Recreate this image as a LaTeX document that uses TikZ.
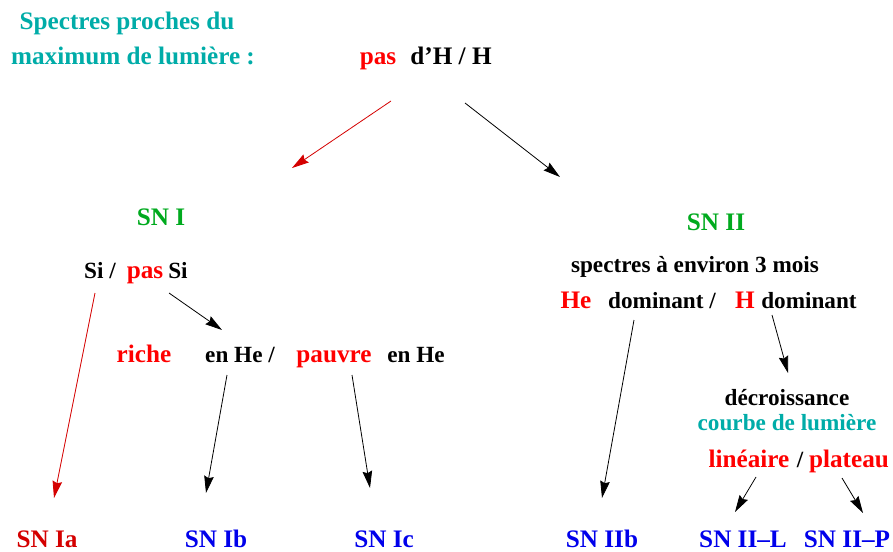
\documentclass[tikz,border=0pt]{standalone}
\usepackage{fontspec}
\setmainfont{Liberation Serif}
\usetikzlibrary{arrows.meta}
\usetikzlibrary{calc}

\definecolor{teal}{RGB}{0,172,168}
\definecolor{snred}{RGB}{212,0,0}
\definecolor{sngreen}{RGB}{0,170,30}
\definecolor{snblue}{RGB}{0,0,235}

\tikzset{
  txt/.style={anchor=base,inner sep=0pt,font=\fontsize{11.6}{13}\selectfont\bfseries},
  big/.style={txt,font=\fontsize{12.6}{14}\selectfont\bfseries},
  hi/.style={big,text=red},
  title/.style={big,text=teal},
  group/.style={big,text=sngreen},
  leaf/.style={big,text=snblue},
}

\begin{document}
\begin{tikzpicture}[x=0.5pt,y=-0.5pt]

  \useasboundingbox (0,0) rectangle (893,551);

  % question at the maximum of light
  \node [title] (q1)  at (127,30) {Spectres proches du};
  \node [title] (q2)  at (133,65) {maximum de lumi\`ere :};
  \node [hi]    (pas) at (378,65) {pas};
  \node [big,text=black] (dH) at (451,65) {d'H / H};

  \coordinate (toSNI)  at (292,168);
  \coordinate (toSNII) at (560,177);

  % SN I branch
  \node [group] (SNI)    at (161,225) {SN I};
  \node [txt]   (SiA)    at (100,278) {Si /};
  \node [hi]    (pasSi)  at (145,278) {pas};
  \node [txt]   (SiB)    at (178,278) {Si};
  \node [hi]    (riche)  at (144,362) {riche};
  \node [txt]   (enHeA)  at (240,362) {en He /};
  \node [hi]    (pauvre) at (334,362) {pauvre};
  \node [txt]   (enHeB)  at (416,362) {en He};

  % SN II branch
  \node [group] (SNII)   at (716,230) {SN II};
  \node [txt]   (mois)   at (695,272) {spectres \`a environ 3 mois};
  \node [hi]    (HeA)    at (576,308) {He};
  \node [txt]   (domA)   at (662,308) {dominant /};
  \node [hi]    (HB)     at (745,308) {H};
  \node [txt]   (domB)   at (809,308) {dominant};
  \node [txt]   (decr)   at (787,405) {d\'ecroissance};
  \node [txt,text=teal] (courbe) at (787,430) {courbe de lumi\`ere};
  \node [hi]    (lin)    at (749,467) {lin\'eaire};
  \node [txt]   (slash)  at (800,467) {/};
  \node [hi]    (plat)   at (849,467) {plateau};

  % types
  \node [big,text=snred] (SNIa) at (47,547)  {SN Ia};
  \node [leaf] (SNIb)  at (216,547) {SN Ib};
  \node [leaf] (SNIc)  at (384,547) {SN Ic};
  \node [leaf] (SNIIb) at (602,547) {SN IIb};
  \node [leaf] (SNIIL) at (743,547) {SN II--L};
  \node [leaf] (SNIIP) at (847,547) {SN II--P};

  \path [->,>={Stealth[length=8.5pt,width=4.8pt,inset=1pt]}]
    ($(dH.base)+(14,38)$)     edge (toSNII)
    ($(SiB.base)+(-9,15)$)    edge ($(enHeA.base)+(-18,-32)$)
    ($(enHeA.base)+(-13,13)$) edge ($(SNIb.base)+(-10,-54)$)
    ($(pauvre.base)+(18,13)$) edge ($(SNIc.base)+(-14,-59)$)
    ($(domA.base)+(-28,12)$)  edge ($(SNIIb.base)+(0,-49)$)
    ($(domB.base)+(-37,7)$)   edge ($(decr.base)+(1,-32)$)
    ($(lin.base)+(7,10)$)     edge ($(SNIIL.base)+(-8,-35)$)
    ($(plat.base)+(-7,11)$)   edge ($(SNIIP.base)+(16,-34)$);

  \path [snred,->,>={Stealth[length=8.5pt,width=4.8pt,inset=1pt]}]
    ($(pas.base)+(13,36)$)    edge (toSNI)
    ($(SiA.base)+(-5,15)$)    edge ($(SNIa.base)+(7,-49)$);

\end{tikzpicture}
\end{document}
